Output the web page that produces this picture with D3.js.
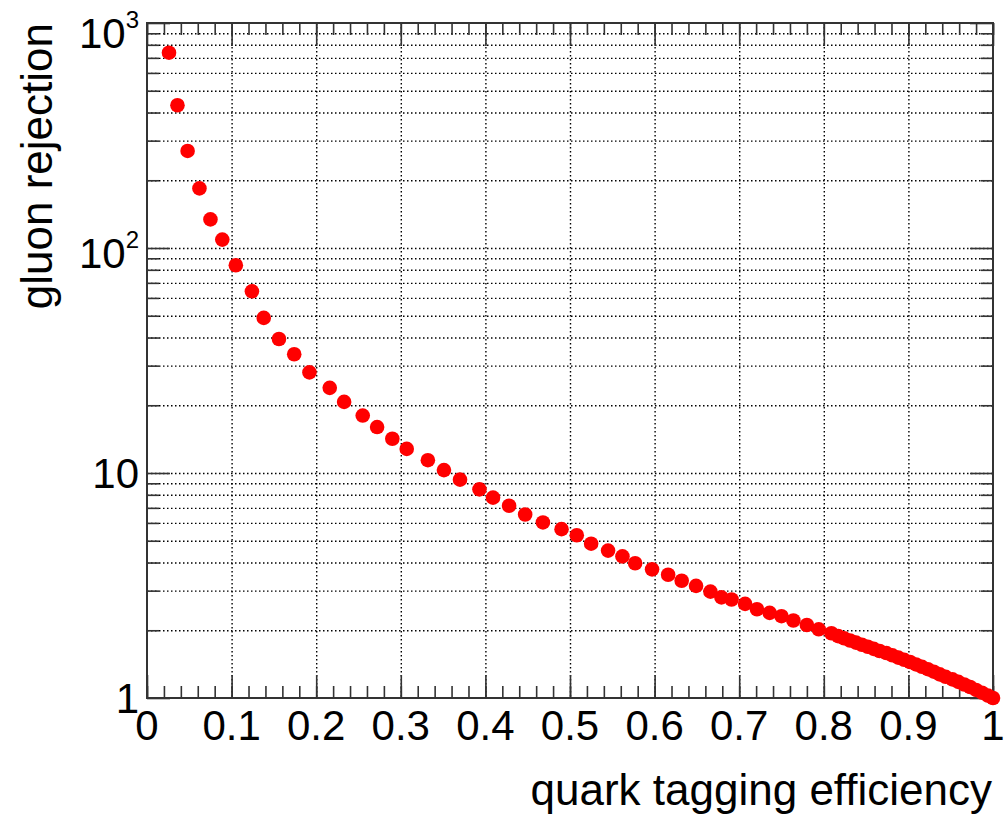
<!DOCTYPE html>
<html>
<head>
<meta charset="utf-8">
<script src="https://cdnjs.cloudflare.com/ajax/libs/d3/7.8.5/d3.min.js"></script>
<style>
  body { margin: 0; background: #fff; }
  svg { display: block; font-family: 'Liberation Sans', Arial, Helvetica, sans-serif; }
  .grid line { stroke: #000; stroke-width: 1.4; stroke-dasharray: 1.5,2.5; }
  .axis line { stroke: #333; stroke-width: 1.6; }
</style>
</head>
<body>
<svg id="chart" width="1008" height="817"></svg>
<script>
var efficiency = [0.026, 0.036, 0.048, 0.062, 0.075, 0.089, 0.105, 0.124, 0.138, 0.156,
  0.174, 0.192, 0.216, 0.233, 0.255, 0.272, 0.290, 0.307, 0.332, 0.351,
  0.370, 0.393, 0.409, 0.428, 0.447, 0.468, 0.490, 0.508, 0.525, 0.545,
  0.562, 0.577, 0.597, 0.616, 0.632, 0.649, 0.666, 0.679, 0.691, 0.707,
  0.721, 0.736, 0.750, 0.764, 0.780, 0.794, 0.809, 0.817, 0.824, 0.831,
  0.838, 0.845, 0.852, 0.859, 0.866, 0.874, 0.881, 0.888, 0.895, 0.902,
  0.909, 0.916, 0.923, 0.930, 0.937, 0.944, 0.952, 0.959, 0.966, 0.973,
  0.980, 0.987, 0.994, 1.0];

var rejection = [738, 431, 270, 184, 134, 109, 83.8, 64.2, 48.9, 39.4,
  33.7, 28.0, 23.9, 20.7, 18.0, 16.0, 14.2, 12.8, 11.4, 10.3,
  9.34, 8.46, 7.77, 7.15, 6.54, 6.03, 5.63, 5.29, 4.85, 4.52,
  4.26, 3.97, 3.73, 3.53, 3.32, 3.15, 2.97, 2.80, 2.74, 2.62,
  2.48, 2.39, 2.31, 2.21, 2.11, 2.02, 1.94, 1.883, 1.842, 1.801,
  1.763, 1.725, 1.689, 1.653, 1.618, 1.584, 1.548, 1.512, 1.478, 1.445,
  1.410, 1.376, 1.343, 1.309, 1.274, 1.242, 1.210, 1.179, 1.148, 1.119,
  1.086, 1.056, 1.025, 1.0];

var xTickValues = [0, 0.1, 0.2, 0.3, 0.4, 0.5, 0.6, 0.7, 0.8, 0.9, 1];
var xTickLabels = ['0', '0.1', '0.2', '0.3', '0.4', '0.5', '0.6', '0.7', '0.8', '0.9', '1'];
var yTickValues = [1, 10, 100, 1000];
var yTickBase = ['1', '10', '10', '10'];
var yTickExp = ['', '', '2', '3'];

var xTitle = 'quark tagging efficiency';
var yTitle = 'gluon rejection';

function rocChart(id) {

  var svg = d3.select('#' + id),
      margin = { top: 23, right: 15, bottom: 119, left: 147 },
      width = +svg.attr('width') - margin.left - margin.right,
      height = +svg.attr('height') - margin.top - margin.bottom,
      g = svg.append('g').attr('transform', 'translate(' + margin.left + ',' + margin.top + ')');

  var x = d3.scaleLinear().domain([0, 1]).range([0, width]);
  var y = d3.scaleLog().domain([1, 1000]).range([height, 0]);

  var xMinor = x.ticks(50);
  var yAll = y.ticks();
  var yMinor = yAll.filter(function (d) { return yTickValues.indexOf(d) < 0; });

  // dotted grid
  g.append('g')
      .attr('class', 'grid')
      .call(d3.axisLeft(y).tickValues(yAll.filter(function (d) { return d > 1 && d < 1000; }))
        .tickSize(-width).tickFormat(''))
      .call(function (s) { s.select('.domain').remove(); });

  g.append('g')
      .attr('class', 'grid')
      .call(d3.axisTop(x).tickValues(xTickValues.slice(1, -1)).tickSize(-height).tickFormat(''))
      .call(function (s) { s.select('.domain').remove(); });

  // ticks on all four sides
  function ticks(axis, tx, ty) {
    g.append('g')
        .attr('class', 'axis')
        .attr('transform', 'translate(' + tx + ',' + ty + ')')
        .call(axis.tickFormat(''))
        .call(function (s) { s.select('.domain').remove(); });
  }

  ticks(d3.axisBottom(x).tickValues(xTickValues).tickSize(-23), 0, height);
  ticks(d3.axisBottom(x).tickValues(xMinor).tickSize(-12), 0, height);
  ticks(d3.axisTop(x).tickValues(xTickValues).tickSize(-23), 0, 0);
  ticks(d3.axisTop(x).tickValues(xMinor).tickSize(-12), 0, 0);
  ticks(d3.axisLeft(y).tickValues(yTickValues).tickSize(-23), 0, 0);
  ticks(d3.axisLeft(y).tickValues(yMinor).tickSize(-12), 0, 0);
  ticks(d3.axisRight(y).tickValues(yTickValues).tickSize(-23), width, 0);
  ticks(d3.axisRight(y).tickValues(yMinor).tickSize(-12), width, 0);

  g.append('rect')
      .attr('width', width)
      .attr('height', height)
      .attr('fill', 'none')
      .attr('stroke', '#333')
      .attr('stroke-width', 2);

  // tick labels
  g.append('g')
      .selectAll('text')
      .data(xTickValues)
      .enter().append('text')
        .attr('x', function (d) { return x(d); })
        .attr('y', height + 42)
        .attr('text-anchor', 'middle')
        .attr('font-size', 42)
        .attr('fill', '#000')
        .text(function (d, i) { return xTickLabels[i]; });

  var yl = g.append('g')
      .selectAll('text')
      .data(yTickValues)
      .enter().append('text')
        .attr('x', -8)
        .attr('y', function (d, i) { return y(d) + (yTickExp[i] ? (d === 1000 ? 25 : 20) : 15); })
        .attr('text-anchor', 'end')
        .attr('font-size', 42)
        .attr('fill', '#000');

  yl.append('tspan').text(function (d, i) { return yTickBase[i]; });
  yl.append('tspan')
      .attr('font-size', 24)
      .attr('dy', function (d, i) { return yTickExp[i] ? -20 : 0; })
      .text(function (d, i) { return yTickExp[i]; });

  // points
  g.append('g')
      .selectAll('circle')
      .data(efficiency)
      .enter().append('circle')
        .attr('cx', function (d) { return x(d); })
        .attr('cy', function (d, i) { return y(rejection[i]); })
        .attr('r', 7.3)
        .attr('fill', '#ff0000');

  // axis titles
  svg.append('text')
      .attr('x', margin.left + width - 1)
      .attr('y', 805)
      .attr('text-anchor', 'end')
      .attr('font-size', 44)
      .attr('fill', '#000')
      .text(xTitle);

  svg.append('text')
      .attr('transform', 'translate(52,' + margin.top + ') rotate(-90)')
      .attr('text-anchor', 'end')
      .attr('font-size', 44)
      .attr('fill', '#000')
      .text(yTitle);
}

rocChart('chart');
</script>
</body>
</html>
